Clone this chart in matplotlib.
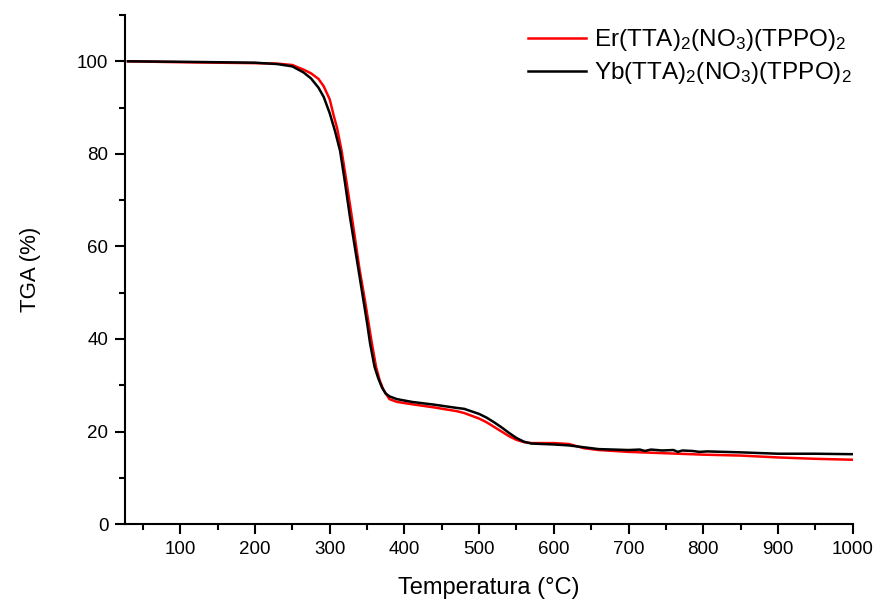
import matplotlib
matplotlib.use("Agg")
from matplotlib import pyplot as plt
from matplotlib.ticker import MultipleLocator

plt.rcParams['font.family'] = ['Liberation Sans', 'DejaVu Sans']
plt.rcParams['mathtext.default'] = 'regular'

# Er(TTA)2(NO3)(TPPO)2
er_temp = [30, 100, 200, 230, 250, 265, 275, 285, 292, 300, 305, 310, 316, 322, 330,
           340, 347, 352, 356, 362, 367, 372, 380, 390, 410, 440, 470, 480, 500, 510,
           520, 530, 540, 550, 560, 570, 600, 620, 640, 660, 700, 750, 800, 850, 900,
           950, 1000]
er_tga = [100, 99.8, 99.6, 99.5, 99.2, 98.2, 97.4, 96.2, 94.6, 91.8, 88.5, 85.5, 80.6,
          74.5, 66.0, 55.0, 48.5, 43.5, 39.5, 34.0, 31.0, 29.0, 27.0, 26.4, 25.9, 25.2,
          24.4, 24.0, 22.8, 22.0, 21.0, 20.0, 19.0, 18.2, 17.7, 17.5, 17.5, 17.3, 16.4,
          16.0, 15.6, 15.3, 15.0, 14.8, 14.4, 14.1, 13.9]

# Yb(TTA)2(NO3)(TPPO)2
yb_temp = [30, 100, 200, 230, 250, 265, 275, 285, 292, 300, 307, 314, 320, 327, 334,
           340, 345, 350, 354, 360, 365, 370, 375, 380, 390, 410, 440, 470, 480, 500,
           510, 520, 530, 540, 550, 560, 570, 600, 620, 640, 660, 700, 715, 722, 730,
           745, 760, 766, 772, 785, 795, 805, 850, 900, 950, 1000]
yb_tga = [100, 99.9, 99.7, 99.4, 98.9, 97.6, 96.3, 94.3, 92.3, 88.8, 85.0, 80.6, 74.3,
          66.5, 59.5, 53.5, 48.5, 43.5, 39.1, 34.0, 31.5, 29.5, 28.2, 27.6, 27.0, 26.4,
          25.8, 25.1, 24.9, 23.8, 23.0, 22.0, 20.9, 19.7, 18.6, 17.8, 17.4, 17.2, 17.0,
          16.6, 16.2, 16.0, 16.1, 15.8, 16.1, 15.9, 16.0, 15.6, 15.9, 15.8, 15.6, 15.7,
          15.5, 15.2, 15.2, 15.1]

fig = plt.figure(figsize=(8.8, 6.01), dpi=100)
ax = fig.add_axes([0.142, 0.128, 0.827, 0.847])

ax.plot(er_temp, er_tga, color='#ff0000', lw=1.8,
        label=r'Er(TTA)$_2$(NO$_3$)(TPPO)$_2$')
ax.plot(yb_temp, yb_tga, color='black', lw=1.8,
        label=r'Yb(TTA)$_2$(NO$_3$)(TPPO)$_2$')

ax.set_xlim(26, 1000)
ax.set_ylim(0, 110)
ax.xaxis.set_minor_locator(MultipleLocator(50))
ax.yaxis.set_minor_locator(MultipleLocator(10))
ax.set_xticks(range(100, 1001, 100))
ax.set_yticks(range(0, 101, 20))

for s in ['top', 'right']:
    ax.spines[s].set_visible(False)
for s in ['left', 'bottom']:
    ax.spines[s].set_linewidth(1.5)
ax.tick_params(which='major', direction='out', length=7, width=1.5, labelsize=13.5, pad=5)
ax.tick_params(which='minor', direction='out', length=4, width=1.5)

ax.set_xlabel('Temperatura (°C)', fontsize=17, labelpad=14)
ax.set_ylabel('TGA (%)', fontsize=16, labelpad=26)

ax.legend(loc='upper right', frameon=False, fontsize=17.5, handlelength=2.4,
          borderaxespad=0.1, labelspacing=0.3, handletextpad=0.3,
          bbox_to_anchor=(1.015, 1.0))

fig.savefig('out.png', dpi=100)
